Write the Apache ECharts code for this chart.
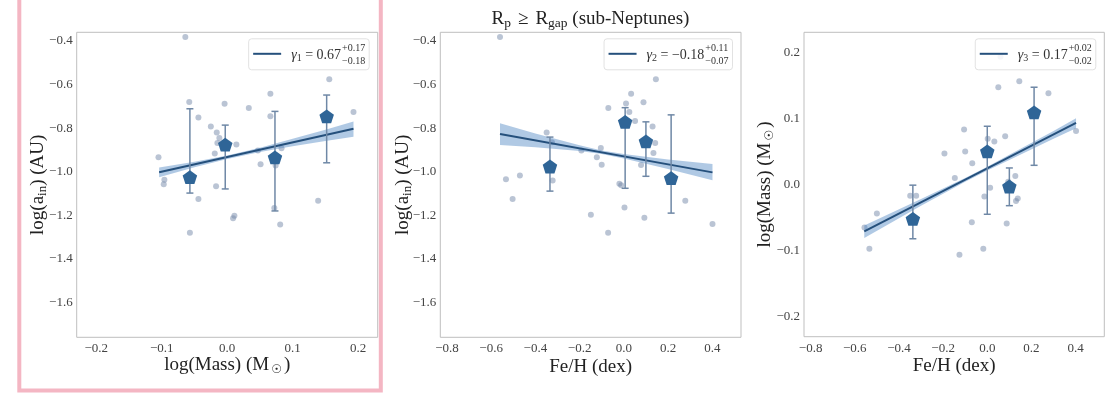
<!DOCTYPE html>
<html>
<head>
<meta charset="utf-8">
<script src="https://cdn.jsdelivr.net/npm/echarts@6/dist/echarts.min.js"></script>
<style>
  html, body { margin: 0; padding: 0; background: #fff; }
  #chart { width: 1116px; height: 394px; }
</style>
</head>
<body>
<div id="chart"></div>
<script>
// ---------- data: sub-Neptunes (Rp >= Rgap) ----------

// Panel 1: log stellar mass vs log inner semi-major axis
const massAinDots = [
  [-0.064, -0.382], [0.156, -0.575], [0.066, -0.642], [-0.058, -0.680], [-0.004, -0.688],
  [0.033, -0.708], [0.193, -0.726], [0.066, -0.745], [-0.044, -0.751], [-0.025, -0.792],
  [-0.016, -0.820], [-0.012, -0.845], [-0.015, -0.868], [0.014, -0.875], [-0.019, -0.916],
  [-0.105, -0.934], [0.047, -0.902], [0.083, -0.892], [0.051, -0.966], [0.074, -0.971],
  [-0.096, -1.037], [-0.097, -1.057], [-0.017, -1.067], [-0.044, -1.125], [0.139, -1.133],
  [0.072, -1.167], [0.011, -1.202], [0.009, -1.213], [0.081, -1.242], [-0.057, -1.280]
];
const massAinMeans = [[-0.057, -1.025], [-0.003, -0.876], [0.073, -0.934], [0.152, -0.746]];
const massAinErr = [[-1.098, -0.711], [-1.079, -0.786], [-1.180, -0.723], [-0.959, -0.648]]; // [low, high]
const massAinFit = [[-0.104, -1.002], [0.193, -0.803]];
const massAinBandX = [-0.104, -0.05, 0.0, 0.05, 0.10, 0.15, 0.193];
const massAinBandLo = [-1.025, -0.980, -0.941, -0.910, -0.883, -0.859, -0.839];
const massAinBandHi = [-0.981, -0.954, -0.925, -0.890, -0.849, -0.807, -0.769];

// Panel 2: [Fe/H] vs log inner semi-major axis
const fehAinDots = [
  [-0.560, -0.382], [0.145, -0.575], [0.033, -0.642], [0.089, -0.681], [0.010, -0.687],
  [-0.070, -0.708], [0.025, -0.726], [0.051, -0.767], [0.130, -0.792], [-0.349, -0.820],
  [-0.325, -0.865], [0.142, -0.868], [-0.104, -0.891], [-0.192, -0.902], [0.134, -0.914],
  [-0.122, -0.933], [-0.100, -0.968], [0.078, -0.969], [-0.470, -1.017], [-0.533, -1.034],
  [-0.322, -1.040], [-0.020, -1.055], [-0.012, -1.062], [-0.503, -1.125], [0.278, -1.133],
  [0.003, -1.164], [-0.149, -1.197], [0.093, -1.211], [0.401, -1.240], [-0.071, -1.280]
];
const fehAinMeans = [[-0.334, -0.976], [0.006, -0.771], [0.100, -0.861], [0.214, -1.029]];
const fehAinErr = [[-1.089, -0.841], [-1.076, -0.706], [-1.021, -0.771], [-1.190, -0.739]];
const fehAinFit = [[-0.560, -0.827], [0.401, -1.003]];
const fehAinBandX = [-0.560, -0.40, -0.20, -0.10, 0.0, 0.20, 0.401];
const fehAinBandLo = [-0.877, -0.888, -0.905, -0.919, -0.939, -0.988, -1.039];
const fehAinBandHi = [-0.777, -0.824, -0.879, -0.903, -0.919, -0.944, -0.965];

// Panel 3: [Fe/H] vs log stellar mass
const fehMassDots = [
  [0.060, 0.193], [0.050, 0.147], [0.145, 0.156], [0.277, 0.138], [0.402, 0.081],
  [-0.105, 0.083], [0.081, 0.073], [0.002, 0.069], [0.032, 0.065], [-0.194, 0.047],
  [-0.100, 0.050], [-0.068, 0.032], [-0.147, 0.010], [0.127, 0.013], [0.095, 0.004],
  [0.013, -0.005], [-0.349, -0.017], [-0.322, -0.017], [-0.013, -0.018], [0.138, -0.021],
  [0.130, -0.025], [-0.500, -0.044], [-0.556, -0.065], [-0.070, -0.057], [0.088, -0.059],
  [-0.534, -0.097], [-0.018, -0.097], [-0.126, -0.106]
];
const fehMassMeans = [[-0.337, -0.052], [0.000, 0.050], [0.100, -0.003], [0.212, 0.109]];
const fehMassErr = [[-0.082, -0.001], [-0.045, 0.088], [-0.032, 0.025], [0.029, 0.147]];
const fehMassFit = [[-0.557, -0.071], [0.402, 0.093]];
const fehMassBandX = [-0.557, -0.30, -0.10, 0.0, 0.10, 0.30, 0.402];
const fehMassBandLo = [-0.081, -0.032, 0.004, 0.021, 0.037, 0.069, 0.085];
const fehMassBandHi = [-0.062, -0.022, 0.010, 0.027, 0.045, 0.081, 0.100];

// Fitted slopes with asymmetric uncertainties
const slopeIndex = ['1', '2', '3'];
const slopeValue = ['0.67', '\u22120.18', '0.17'];
const slopeUpper = ['+0.17', '+0.11', '+0.02'];
const slopeLower = ['\u22120.18', '\u22120.07', '\u22120.02'];

// Axis titles (rich text) and ranges
const xTitles = ['log(Mass) (M{o|\u2609})', 'Fe/H (dex)', 'Fe/H (dex)'];
const yTitles = ['log(a{s|in}) (AU)', 'log(a{s|in}) (AU)', 'log(Mass) (M{o|\u2609})'];
const titleText = 'R{s|p}{ge|\u2265}R{s|gap} (sub-Neptunes)';
const xRanges = [[-0.23, 0.23], [-0.83, 0.53], [-0.83, 0.53]];
const yRanges = [[-1.76, -0.36], [-1.76, -0.36], [-0.23, 0.23]];

// ---------- layout & style ----------
const SERIF = '"Liberation Serif", "DejaVu Serif", serif';
const GRIDS = [
  { left: 76.7, top: 32.3, width: 301, height: 305 },
  { left: 440.3, top: 32.3, width: 300.7, height: 305 },
  { left: 804, top: 32.3, width: 300.3, height: 304.4 }
];
const X_SPLIT = [5, 7, 7];
const Y_SPLIT = [7, 7, 5];
const X_NAME_GAP = [17, 20, 20];
const Y_NAME_GAP = [28, 26, 28];
const DOT_COLOR = 'rgba(110,132,165,0.6)';
const MEAN_COLOR = '#2f6597';
const FIT_COLOR = '#25507c';
const BAND_COLOR = 'rgba(80,135,195,0.45)';
const ERR_COLOR = '#6f88a6';
const PENTAGON = 'path://M0,-10 L9.511,-3.09 L5.878,8.09 L-5.878,8.09 L-9.511,-3.09 Z';

const panels = [
  { dots: massAinDots, means: massAinMeans, err: massAinErr, fit: massAinFit,
    bx: massAinBandX, blo: massAinBandLo, bhi: massAinBandHi },
  { dots: fehAinDots, means: fehAinMeans, err: fehAinErr, fit: fehAinFit,
    bx: fehAinBandX, blo: fehAinBandLo, bhi: fehAinBandHi },
  { dots: fehMassDots, means: fehMassMeans, err: fehMassErr, fit: fehMassFit,
    bx: fehMassBandX, blo: fehMassBandLo, bhi: fehMassBandHi }
];

const tickFmt = v => (Math.abs(v) < 1e-9 ? 0 : v).toFixed(1).replace('-', '\u2212');

const nameRich = {
  s: { fontFamily: SERIF, fontSize: 13, color: '#222', padding: [9, 0, 0, 0] },
  o: { fontFamily: '"DejaVu Sans", sans-serif', fontSize: 12, color: '#222', padding: [10, 2, 0, 2] }
};

const grid = GRIDS.map(g => Object.assign({ show: true, borderColor: '#bfbfbf', borderWidth: 1,
  backgroundColor: 'transparent', containLabel: false }, g));

const xAxis = xRanges.map((r, i) => ({
  type: 'value', gridIndex: i, min: r[0], max: r[1], splitNumber: X_SPLIT[i],
  axisLine: { show: false }, axisTick: { show: false }, splitLine: { show: false },
  axisLabel: { formatter: tickFmt, fontFamily: SERIF, fontSize: 13, color: '#444', margin: 5,
    showMinLabel: false, showMaxLabel: false },
  name: xTitles[i], nameLocation: 'middle', nameGap: X_NAME_GAP[i], nameMoveOverlap: false,
  nameTextStyle: { fontFamily: SERIF, fontSize: 19, color: '#222', rich: nameRich }
}));

const yAxis = yRanges.map((r, i) => ({
  type: 'value', gridIndex: i, min: r[0], max: r[1], splitNumber: Y_SPLIT[i],
  axisLine: { show: false }, axisTick: { show: false }, splitLine: { show: false },
  axisLabel: { formatter: tickFmt, fontFamily: SERIF, fontSize: 13, color: '#444', margin: 4,
    showMinLabel: false, showMaxLabel: false },
  name: yTitles[i], nameLocation: 'middle', nameRotate: 90, nameGap: Y_NAME_GAP[i],
  nameMoveOverlap: false,
  nameTextStyle: { fontFamily: SERIF, fontSize: 19, color: '#222', rich: nameRich }
}));

const series = [];
panels.forEach((p, i) => {
  const axes = { xAxisIndex: i, yAxisIndex: i };
  series.push(Object.assign({
    type: 'scatter', data: p.dots, symbolSize: 6, silent: true, z: 2,
    itemStyle: { color: DOT_COLOR }
  }, axes));
  series.push(Object.assign({
    type: 'custom', silent: true, z: 3,
    data: [[p.bx[0], p.blo[0]]],
    renderItem: (params, api) => {
      const pts = [];
      for (let k = 0; k < p.bx.length; k++) pts.push(api.coord([p.bx[k], p.bhi[k]]));
      for (let k = p.bx.length - 1; k >= 0; k--) pts.push(api.coord([p.bx[k], p.blo[k]]));
      return { type: 'polygon', shape: { points: pts }, style: { fill: BAND_COLOR } };
    }
  }, axes));
  series.push(Object.assign({
    type: 'line', data: p.fit, symbol: 'none', silent: true, z: 4,
    lineStyle: { color: FIT_COLOR, width: 2 }
  }, axes));
  series.push(Object.assign({
    type: 'custom', silent: true, z: 5,
    data: p.means.map((m, k) => [m[0], p.err[k][0], p.err[k][1]]),
    encode: { x: 0, y: [1, 2] },
    renderItem: (params, api) => {
      const x = api.value(0);
      const lo = api.coord([x, api.value(1)]);
      const hi = api.coord([x, api.value(2)]);
      const cap = 3.5;
      const st = { stroke: ERR_COLOR, lineWidth: 1.5 };
      return { type: 'group', children: [
        { type: 'line', shape: { x1: hi[0], y1: hi[1], x2: lo[0], y2: lo[1] }, style: st },
        { type: 'line', shape: { x1: hi[0] - cap, y1: hi[1], x2: hi[0] + cap, y2: hi[1] }, style: st },
        { type: 'line', shape: { x1: lo[0] - cap, y1: lo[1], x2: lo[0] + cap, y2: lo[1] }, style: st }
      ] };
    }
  }, axes));
  series.push(Object.assign({
    type: 'scatter', data: p.means, symbol: PENTAGON, symbolSize: [14.5, 13.8], silent: true, z: 6,
    itemStyle: { color: MEAN_COLOR, opacity: 1 }
  }, axes));
});

// ---------- legend boxes (line sample + slope with asymmetric errors) ----------
const measureCtx = document.createElement('canvas').getContext('2d');
function textWidth(font, s) { measureCtx.font = font; return measureCtx.measureText(s).width; }
const MAIN = 14, SMALL = 10;
const graphic = [];
GRIDS.forEach((g, i) => {
  const mainW = textWidth('italic ' + MAIN + 'px ' + SERIF, '\u03b3') +
    textWidth(SMALL + 'px ' + SERIF, slopeIndex[i]) +
    textWidth(MAIN + 'px ' + SERIF, ' = ' + slopeValue[i]);
  const supW = Math.max(textWidth(SMALL + 'px ' + SERIF, slopeUpper[i]),
                        textWidth(SMALL + 'px ' + SERIF, slopeLower[i]));
  const boxW = 4.5 + 28 + 10 + mainW + 1 + supW + 4;
  const boxH = 31;
  const right = g.left + g.width - 8.5;
  const left = right - boxW;
  const top = g.top + 6.5;
  const tx = left + 42.5;
  graphic.push({ type: 'rect', z: 100, silent: true,
    shape: { x: left, y: top, width: boxW, height: boxH, r: 3 },
    style: { fill: 'rgba(255,255,255,0.85)', stroke: '#e2e2e2', lineWidth: 1 } });
  graphic.push({ type: 'line', z: 101, silent: true,
    shape: { x1: left + 4.5, y1: top + 15, x2: left + 32.5, y2: top + 15 },
    style: { stroke: FIT_COLOR, lineWidth: 2 } });
  graphic.push({ type: 'text', z: 101, silent: true, x: tx, y: top + 17,
    style: {
      text: '{g|\u03b3}{n|' + slopeIndex[i] + '}{t| = ' + slopeValue[i] + '}',
      verticalAlign: 'middle', align: 'left',
      rich: {
        g: { fontFamily: SERIF, fontStyle: 'italic', fontSize: MAIN, fill: '#333' },
        n: { fontFamily: SERIF, fontSize: SMALL, fill: '#333', padding: [6, 0, 0, 0] },
        t: { fontFamily: SERIF, fontSize: MAIN, fill: '#333' }
      }
    } });
  graphic.push({ type: 'text', z: 101, silent: true, x: tx + mainW + 1, y: top + 10,
    style: { text: slopeUpper[i], font: SMALL + 'px ' + SERIF, fill: '#333',
      verticalAlign: 'middle', align: 'left' } });
  graphic.push({ type: 'text', z: 101, silent: true, x: tx + mainW + 1, y: top + 22.5,
    style: { text: slopeLower[i], font: SMALL + 'px ' + SERIF, fill: '#333',
      verticalAlign: 'middle', align: 'left' } });
});

// Frame around the first panel
graphic.push({ type: 'rect', z: 110, silent: true,
  shape: { x: 19.3, y: -10, width: 361.5, height: 400.5 },
  style: { fill: 'none', stroke: '#f4b6c3', lineWidth: 4 } });

const chart = echarts.init(document.getElementById('chart'), null, { renderer: 'canvas' });
chart.setOption({
  animation: false,
  backgroundColor: '#ffffff',
  title: {
    text: titleText, left: 585.5, top: 3, textAlign: 'center',
    textStyle: { fontFamily: SERIF, fontSize: 19, fontWeight: 'normal', color: '#222',
      rich: {
        s: { fontFamily: SERIF, fontSize: 13.5, color: '#222', padding: [8, 0, 0, 0] },
        ge: { fontFamily: SERIF, fontSize: 19, color: '#222', padding: [0, 7, 0, 7] }
      } }
  },
  grid, xAxis, yAxis, series, graphic
});
</script>
</body>
</html>
